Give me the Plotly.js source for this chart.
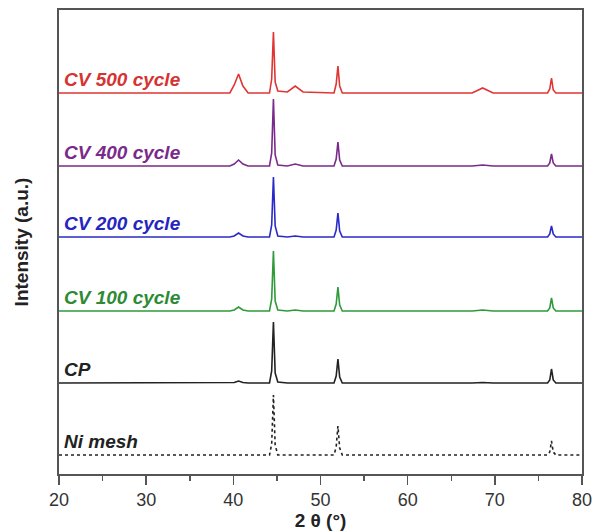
<!DOCTYPE html>
<html>
<head>
<meta charset="utf-8">
<script src="https://cdn.plot.ly/plotly-3.0.1.min.js"></script>
<style>html,body{margin:0;padding:0;background:#fff;}#chart{width:596px;height:531px;}</style>
</head>
<body>
<div id="chart"></div>
<script>
// 2θ sample points (degrees)
const twoTheta = [20, 39.6, 40.1, 40.6, 41.1, 41.7, 44.15, 44.4, 44.6, 44.8, 45.1, 46.2, 47.1, 48.0, 51.55, 51.8, 52.0, 52.2, 52.5, 67.4, 68.6, 69.8, 76.05, 76.3, 76.5, 76.7, 77.0, 80];

// Relative intensities (a.u.) above each pattern's baseline
const cv500 = [0, 0, 8, 19, 7, 0, 0, 14, 61, 11, 2, 1, 7, 1, 0, 9, 27, 7, 0, 0, 5, 0, 0, 4, 15, 3, 0, 0];
const cv400 = [0, 0, 2, 6, 2, 0, 0, 13, 67, 11, 1, 0, 2, 0, 0, 7, 24, 6, 0, 0, 1, 0, 0, 3, 12, 3, 0, 0];
const cv200 = [0, 0, 1, 4, 1, 0, 0, 12, 60, 11, 1, 0, 1, 0, 0, 7, 24, 6, 0, 0, 0.5, 0, 0, 3, 11, 3, 0, 0];
const cv100 = [0, 0, 1, 4, 1, 0, 0, 12, 60, 10, 1, 0, 1, 0, 0, 7, 24, 6, 0, 0, 1, 0, 0, 3, 13, 3, 0, 0];
const cp    = [0, 0, 0.5, 2, 0.5, 0, 0, 12, 61, 10, 1, 0, 0, 0, 0, 7, 24, 6, 0, 0, 0.5, 0, 0, 3, 14, 3, 0, 0];
const niMesh= [0, 0, 0, 0, 0, 0, 0, 11, 60, 10, 0, 0, 0, 0, 0, 8, 29, 7, 0, 0, 0, 0, 0, 3, 14, 3, 0, 0];

// Series names and vertical stacking offsets (a.u.)
const seriesNames = ["Ni mesh", "CP", "CV 100 cycle", "CV 200 cycle", "CV 400 cycle", "CV 500 cycle"];
const seriesData = [niMesh, cp, cv100, cv200, cv400, cv500];
const offsets = [19, 91, 163, 237, 308, 381];

const lineColors = ["#222222", "#222222", "#2e9a3a", "#2a2ac8", "#7a2a8a", "#e03535"];
const textColors = ["#222222", "#222222", "#2e8b35", "#2525bf", "#7a2a8a", "#d63333"];
const dashes = ["dot", "solid", "solid", "solid", "solid", "solid"];

const traces = seriesData.map((vals, i) => ({
  type: "scatter",
  mode: "lines",
  name: seriesNames[i],
  x: twoTheta,
  y: vals.map(v => v + offsets[i]),
  line: {color: lineColors[i], width: 1.6, dash: dashes[i]},
  hoverinfo: "skip"
}));

const annotations = seriesNames.map((name, i) => ({
  x: 20.35, y: offsets[i] + 13.5, xref: "x", yref: "y",
  xanchor: "left", yanchor: "middle",
  text: "<b><i>" + name + "</i></b>",
  showarrow: false,
  font: {family: "Liberation Sans, Arial, sans-serif", size: 19, color: textColors[i]}
}));

const layout = {
  width: 596, height: 531,
  margin: {l: 59, r: 14, t: 10, b: 57},
  paper_bgcolor: "#fff", plot_bgcolor: "#fff",
  showlegend: false,
  font: {family: "Liberation Sans, Arial, sans-serif", color: "#333"},
  xaxis: {
    range: [20, 80], dtick: 10, tick0: 20,
    ticks: "outside", ticklen: 9, tickwidth: 1.5, tickcolor: "#555",
    minor: {dtick: 5, ticks: "outside", ticklen: 5, tickwidth: 1.5, tickcolor: "#555"},
    showline: true, mirror: true, linecolor: "#555", linewidth: 1.8,
    showgrid: false, zeroline: false,
    tickfont: {size: 18, color: "#333"},
    title: {text: "<b>2 θ (°)</b>", font: {size: 19, color: "#222"}, standoff: 4}
  },
  yaxis: {
    range: [0, 464],
    showticklabels: false, ticks: "",
    showline: true, mirror: true, linecolor: "#555", linewidth: 1.8,
    showgrid: false, zeroline: false,
    title: {text: "<b>Intensity (a.u.)</b>", font: {size: 19, color: "#222"}, standoff: 23}
  },
  annotations: annotations
};

Plotly.newPlot("chart", traces, layout, {displayModeBar: false, staticPlot: true});
</script>
</body>
</html>
